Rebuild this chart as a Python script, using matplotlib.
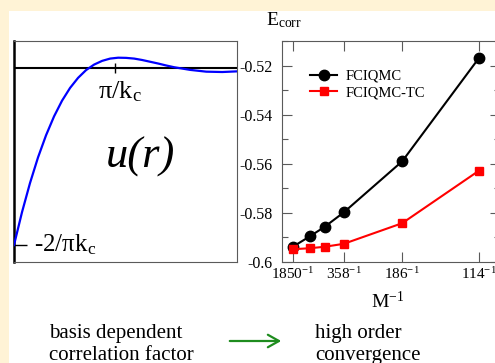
import numpy as np
import matplotlib
matplotlib.use("Agg")
import matplotlib.pyplot as plt
from matplotlib.patches import Rectangle, FancyArrowPatch
from matplotlib.ticker import AutoMinorLocator

plt.rcParams['font.family'] = ['Liberation Serif', 'DejaVu Serif']
plt.rcParams['mathtext.fontset'] = 'custom'
plt.rcParams['mathtext.rm'] = 'Liberation Serif'
plt.rcParams['mathtext.it'] = 'Liberation Serif:italic'

# ---- left panel: correlation factor u(r) (r in units of 1/k_c, u in units of 2/(pi k_c))
r_vals = [0.0, 0.25, 0.5, 0.75, 1.0, 1.25, 1.5, 1.75, 2.0, 2.25, 2.5, 2.75, 3.0,
          3.25, 3.5, 3.75, 4.0, 4.25, 4.5, 4.75, 5.0, 5.5, 6.0, 6.5, 7.0]
u_vals = [-1.0, -0.814, -0.649, -0.504, -0.379, -0.272, -0.183, -0.111, -0.054,
          -0.010, 0.021, 0.042, 0.055, 0.060, 0.059, 0.055, 0.047, 0.037, 0.027,
          0.016, 0.006, -0.009, -0.019, -0.021, -0.017]

# ---- right panel: correlation energy vs 1/M
M_vals = [1850, 778, 514, 358, 186, 114]
E_fciqmc = [-0.5938, -0.5896, -0.5857, -0.5798, -0.5590, -0.5169]
E_tc = [-0.5948, -0.5944, -0.5938, -0.5926, -0.5842, -0.5628]
tick_M = [1850, 358, 186, 114]
tick_labels = [f'{m}$^{{\\mathregular{{-1}}}}$' for m in tick_M]
ytick_vals = [-0.6, -0.58, -0.56, -0.54, -0.52]
ytick_labels = ['-0.6', '-0.58', '-0.56', '-0.54', '-0.52']

W, H = 495, 363
fig = plt.figure(figsize=(W / 100, H / 100), dpi=100)
fig.patch.set_facecolor('white')
cream = '#FFF3D6'
fig.add_artist(Rectangle((0, 0), 9 / W, 1, transform=fig.transFigure,
                         facecolor=cream, edgecolor='none', zorder=-5))
fig.add_artist(Rectangle((0, 1 - 11 / H), 1, 11 / H, transform=fig.transFigure,
                         facecolor=cream, edgecolor='none', zorder=-5))

def fx(px):
    return px / W

def fy(py):
    return 1 - py / H

top_px, bot_px = 41, 262
ax1 = fig.add_axes([fx(14), fy(bot_px), fx(237) - fx(14), fy(top_px) - fy(bot_px)])
ax2 = fig.add_axes([fx(282), fy(bot_px), fx(500) - fx(282), fy(top_px) - fy(bot_px)])

# left panel
gray = '#5a5a5a'
ax1.plot(r_vals, u_vals, color='#0000FF', lw=1.6, zorder=3)
ax1.axhline(0, color='black', lw=1.5, zorder=2)
ax1.vlines(np.pi, -0.028, 0.028, color='black', lw=1.0, zorder=4)
ax1.set_xlim(0, 6.96)
ax1.set_ylim(-1.096, 0.1545)
ax1.set_xticks([])
ax1.set_yticks([-1.0])
ax1.tick_params(axis='y', direction='in', length=9.5, width=1.0, labelleft=False,
                color='black')
for s in ['top', 'right', 'bottom']:
    ax1.spines[s].set_color(gray)
    ax1.spines[s].set_linewidth(0.8)
ax1.spines['left'].set_color('black')
ax1.spines['left'].set_linewidth(1.8)
ax1.text(3.3, -0.06, 'π/k$_{\\mathregular{c}}$', ha='center', va='top', fontsize=19)
ax1.text(0.62, -1.0, '-2/πk$_{\\mathregular{c}}$', ha='left', va='center', fontsize=18)
ax1.text(3.96, -0.50, 'u(r)', ha='center', va='center', fontsize=32, style='italic')

# right panel
x_fc = [1.0 / m for m in M_vals]
ax2.plot(x_fc, E_fciqmc, color='black', lw=1.5, marker='o', ms=7.5, label='FCIQMC')
ax2.plot(x_fc, E_tc, color='#FF0000', lw=1.5, marker='s', ms=6, label='FCIQMC-TC')
ax2.set_xlim(0.0000634, 0.0097)
ax2.set_ylim(-0.6, -0.51)
ax2.set_xticks([1.0 / m for m in tick_M])
ax2.set_xticklabels(tick_labels)
ax2.set_yticks(ytick_vals)
ax2.set_yticklabels(ytick_labels)
ax2.yaxis.set_minor_locator(AutoMinorLocator(2))
ax2.tick_params(which='both', direction='in', top=True, right=True, color=gray, width=0.8)
ax2.tick_params(which='major', length=7.5)
ax2.tick_params(which='minor', length=4)
ax2.tick_params(axis='y', pad=7, labelsize=11.5)
ax2.tick_params(axis='x', pad=3, labelsize=11)
for s in ax2.spines.values():
    s.set_color(gray)
    s.set_linewidth(0.8)
ax2.legend(loc='upper left', bbox_to_anchor=(0.13, 0.87), frameon=False, fontsize=10.5,
           handlelength=1.85, handletextpad=0.55, labelspacing=0.2, borderpad=0,
           borderaxespad=0)

fig.text(fx(266), fy(25), 'E$_{\\mathregular{corr}}$', ha='left', va='baseline', fontsize=14)
fig.text(fx(388), fy(308), 'M$^{\\mathregular{-1}}$', ha='center', va='baseline', fontsize=14)

# bottom captions
fig.text(fx(49), fy(338), 'basis dependent', ha='left', va='baseline', fontsize=15)
fig.text(fx(49), fy(360), 'correlation factor', ha='left', va='baseline', fontsize=15)
fig.text(fx(315), fy(338), 'high order', ha='left', va='baseline', fontsize=15)
fig.text(fx(315), fy(360), 'convergence', ha='left', va='baseline', fontsize=15)
fig.add_artist(FancyArrowPatch(
    (fx(227), fy(341)), (fx(284), fy(341)), transform=fig.transFigure,
    arrowstyle='->,head_length=8,head_width=4.5', color='#1E8C1E', lw=1.6))

fig.savefig('out.png', dpi=100)
